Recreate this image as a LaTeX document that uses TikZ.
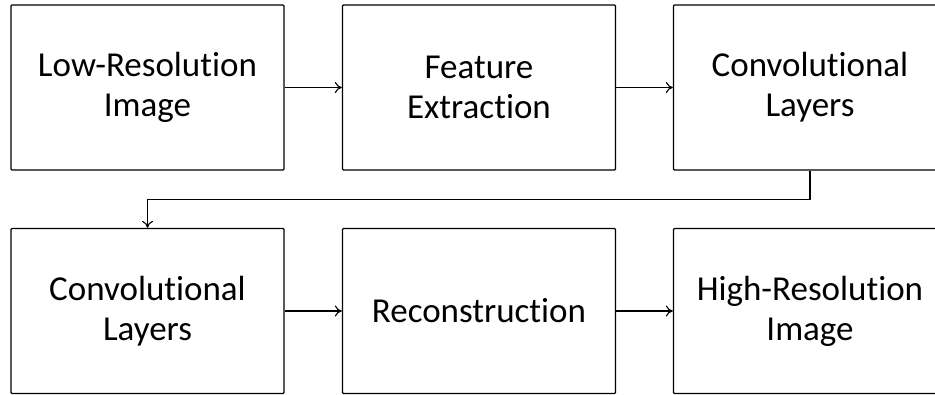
\documentclass[tikz,border=0pt]{standalone}
\usepackage{fontspec}
\setmainfont{Carlito}[Ligatures={NoCommon}]
\usetikzlibrary{arrows.meta}
\begin{document}
\begin{tikzpicture}[x=1pt,y=1pt,
  stage/.style={draw=black, line width=1.3pt, fill=white, rounded corners=1pt,
    minimum width=273pt, minimum height=165pt, align=center, inner sep=0pt,
    font=\fontsize{35}{40}\selectfont},
  flow/.style={draw=black, line width=1.1pt, -{To[length=7pt,width=11pt,line width=1.1pt]}}]
  \useasboundingbox (0,0) rectangle (935,395);
  \clip (0,0) rectangle (935,395);
  \fill[white] (0,0) rectangle (935,395);
  % top row
  \node[stage] (lr)  at (147.5,307.5) {Low-Resolution\\Image};
  \node[stage] (fe)  at (479,307.5)   {Feature\\Extraction};
  \node[stage] (cl1) at (810,307.5)   {Convolutional\\Layers};
  % bottom row
  \node[stage] (cl2) at (147.5,84)    {Convolutional\\Layers};
  \node[stage] (rc)  at (479,84)      {Reconstruction};
  \node[stage] (hr)  at (810,84)      {High-Resolution\\Image};
  % connectors
  \draw[flow] (lr) -- (fe);
  \draw[flow] (fe) -- (cl1);
  \draw[flow] (cl1.south) -- ++(0,-29) -| (cl2.north);
  \draw[flow] (cl2) -- (rc);
  \draw[flow] (rc) -- (hr);
\end{tikzpicture}
\end{document}
